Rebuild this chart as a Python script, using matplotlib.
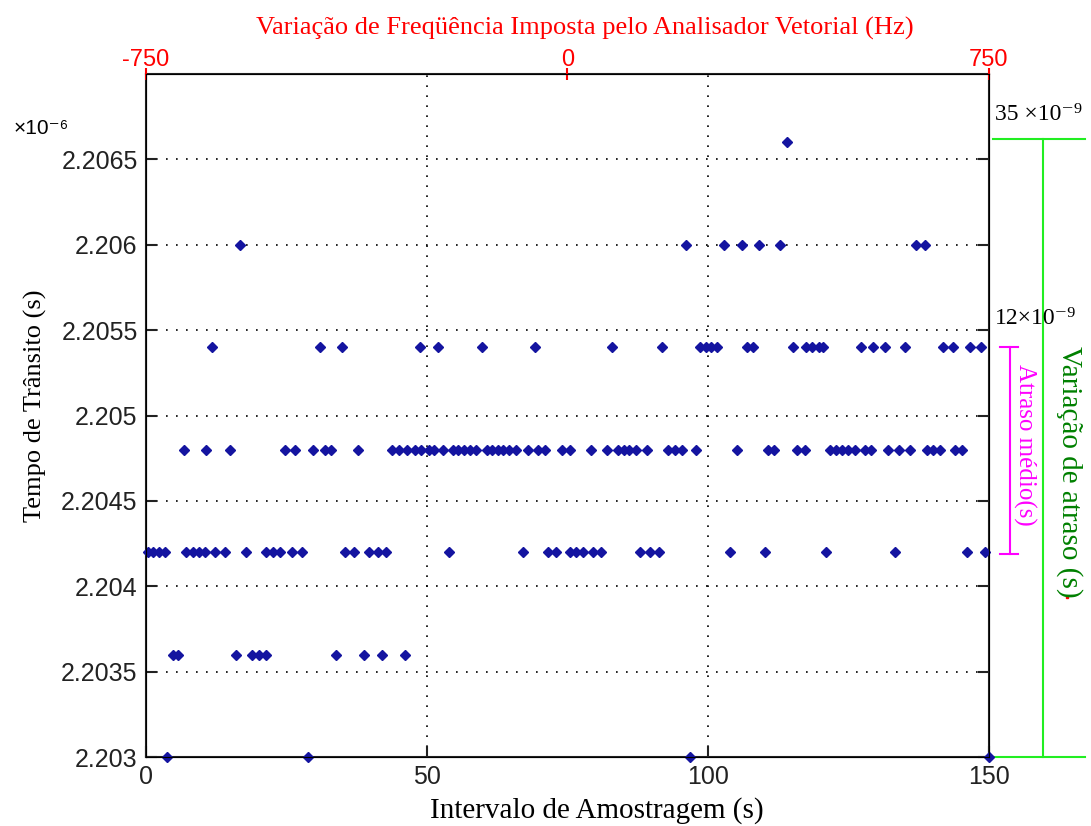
import matplotlib
matplotlib.use("Agg")
import matplotlib.pyplot as plt

# ── Dados (tempo em µs, x em s) ───────────────────────────────────────────────
levels = [2.2030, 2.2036, 2.2042, 2.2048, 2.2054, 2.2060, 2.2066]

x_2030 = [3.8, 28.9, 96.8, 150.0]
x_2036 = [4.8, 5.7, 16.0, 18.9, 20.1, 21.3, 33.8, 38.8, 42.0, 46.0]
x_2042 = [0.3, 1.2, 2.3, 3.3, 7.2, 8.4, 9.5, 10.5, 12.3, 14.0, 17.8, 21.4,
          22.6, 23.9, 25.9, 27.8, 35.4, 37.1, 39.6, 41.2, 42.7, 53.9, 67.0,
          71.6, 72.9, 75.4, 76.6, 77.8, 79.6, 80.9, 87.9, 89.7, 91.2, 104.0,
          110.1, 121.0, 133.3, 146.0, 149.3]
x_2048 = [6.8, 10.7, 14.9, 24.7, 26.6, 29.8, 31.9, 33.0, 37.8, 43.7, 45.0,
          46.5, 47.8, 48.9, 50.3, 51.3, 52.9, 54.6, 55.6, 56.6, 57.6, 58.7,
          60.6, 61.6, 62.6, 63.6, 64.6, 65.8, 67.9, 69.8, 71.0, 74.0, 75.4,
          79.1, 82.0, 84.0, 85.0, 86.0, 87.2, 89.1, 92.9, 94.1, 95.3, 97.9,
          105.1, 110.7, 111.8, 115.8, 117.2, 121.7, 122.8, 123.8, 124.9,
          126.2, 127.9, 129.0, 132.1, 134.0, 135.9, 139.0, 140.0, 141.2,
          144.0, 145.2]
x_2054 = [11.8, 31.0, 34.9, 48.8, 51.9, 59.8, 69.2, 82.9, 91.9, 98.6, 99.6,
          100.6, 101.6, 106.9, 108.0, 115.1, 117.4, 118.5, 119.7, 120.5,
          127.2, 129.4, 131.5, 135.1, 141.8, 143.6, 146.6, 148.6]
x_2060 = [16.7, 96.0, 102.8, 106.1, 109.0, 112.8, 137.1, 138.6]
x_2066 = [114.0]
rows = [x_2030, x_2036, x_2042, x_2048, x_2054, x_2060, x_2066]

yticks = [2.203, 2.2035, 2.204, 2.2045, 2.205, 2.2055, 2.206, 2.2065]
ytick_labels = ["2.203", "2.2035", "2.204", "2.2045", "2.205", "2.2055", "2.206", "2.2065"]
xticks = [0, 50, 100, 150]
top_ticks = [-750, 0, 750]

SANS = ["Liberation Sans", "DejaVu Sans"]
SERIF = ["Liberation Serif", "DejaVu Serif"]

fig = plt.figure(figsize=(10.91, 8.26), dpi=100)
ax = fig.add_axes([0.1338, 0.0835, 0.7727, 0.8269])

for yv, xs in zip(levels, rows):
    ax.plot(xs, [yv] * len(xs), "D", color="#1414a0", ms=5.5, mec="#1414a0",
            clip_on=False, zorder=3)

ax.set_xlim(0, 150)
ax.set_ylim(2.203, 2.207)
ax.set_xticks(xticks)
ax.set_xticklabels([str(v) for v in xticks], family=SANS, fontsize=18)
ax.set_yticks(yticks)
ax.set_yticklabels(ytick_labels, family=SANS, fontsize=18)
ax.tick_params(direction="in", length=8, width=1.5, right=True, top=False,
               pad=6, colors="#222222")
ax.tick_params(axis="x", pad=6)
ax.grid(True, color="black", linestyle=(0, (1, 5)), linewidth=1.2)
for s in ax.spines.values():
    s.set_linewidth(1.5)
    s.set_color("#222222")

ax.set_xlabel("Intervalo de Amostragem (s)", family=SERIF, fontsize=21)
ax.xaxis.set_label_coords(0.535, -0.058)
ax.set_ylabel("Tempo de Trânsito (s)", family=SERIF, fontsize=19)
ax.yaxis.set_label_coords(-0.117, 0.515)

fig.text(0.012, 0.845, "×10⁻⁶", family=SANS, fontsize=15, va="center")

# eixo superior (frequência)
ax2 = ax.twiny()
ax2.set_xlim(-750, 750)
ax2.set_xticks(top_ticks)
ax2.set_xticklabels([str(v) for v in top_ticks], family=SANS, fontsize=17, color="red")
ax2.tick_params(axis="x", colors="red", direction="inout", length=8, width=1.5, pad=-2)
ax2.set_xlabel("Variação de Freqüência Imposta pelo Analisador Vetorial (Hz)",
               family=SERIF, fontsize=19, color="red")
ax2.xaxis.set_label_coords(0.52, 1.058)

# anotações à direita
ax.plot([150.7, 167.1], [2.20662, 2.20662], color="#22ee22", lw=1.5, clip_on=False)
ax.plot([150.7, 167.1], [2.2030, 2.2030], color="#22ee22", lw=1.5, clip_on=False)
ax.plot([159.6, 159.6], [2.2030, 2.20662], color="#22ee22", lw=1.5, clip_on=False)

ax.plot([153.7, 153.7], [2.20419, 2.20540], color="#ff00ff", lw=1.5, clip_on=False)
ax.plot([152.0, 155.2], [2.20540, 2.20540], color="#ff00ff", lw=1.5, clip_on=False)
ax.plot([152.0, 155.2], [2.20419, 2.20419], color="#ff00ff", lw=1.5, clip_on=False)

ax.text(151.1, 2.20676, "35 ×10⁻⁹", family=SERIF, fontsize=17, va="center", ha="left")
ax.text(151.1, 2.20557, "12×10⁻⁹", family=SERIF, fontsize=17, va="center", ha="left")
ax.text(156.4, 2.20483, "Atraso médio(s)", family=SERIF, fontsize=18, color="#ff00ff",
        rotation=270, va="center", ha="center")
ax.text(164.4, 2.20467, "Variação de atraso (s)", family=SERIF, fontsize=21,
        color="#008000", rotation=270, va="center", ha="center")
ax.plot([163.9], [2.203937], "s", color="red", ms=1.5, clip_on=False)

fig.savefig("out.png", dpi=100)
